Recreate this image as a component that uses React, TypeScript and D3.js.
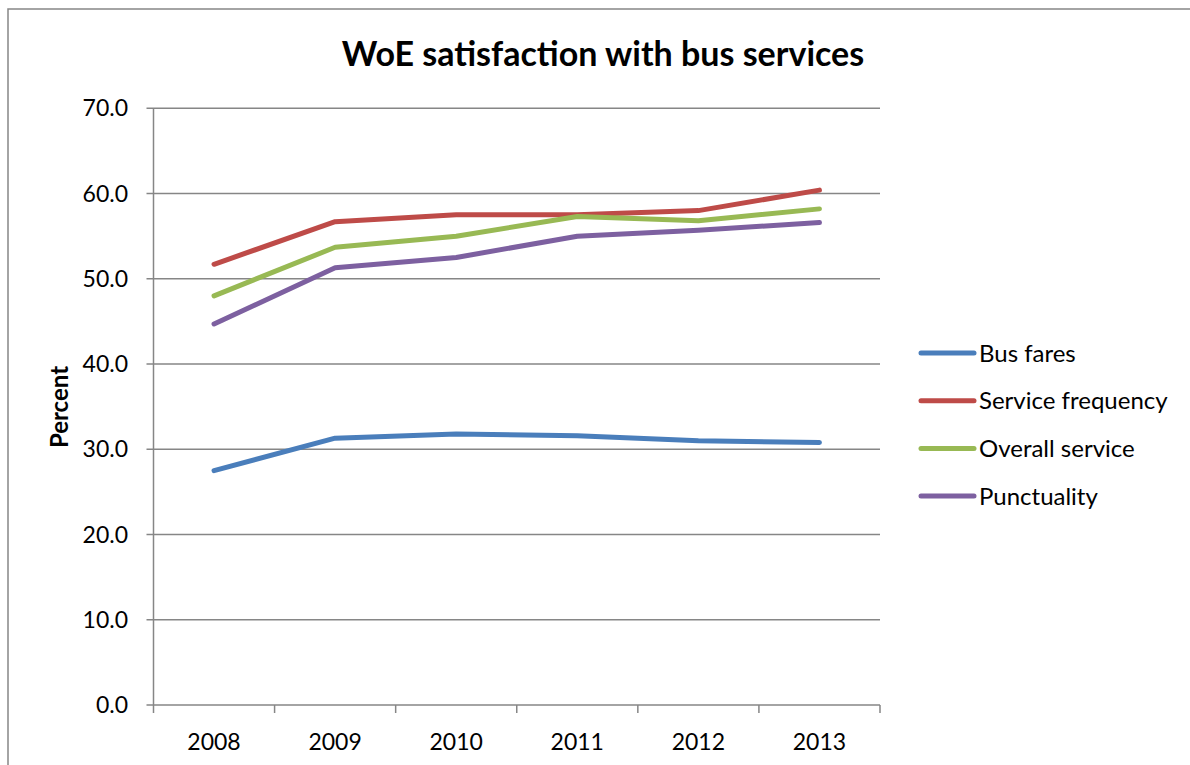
import React from "react";
import * as d3 from "d3";

const years = ["2008", "2009", "2010", "2011", "2012", "2013"];
const busFares = [27.5, 31.3, 31.8, 31.6, 31.0, 30.8];
const serviceFrequency = [51.7, 56.7, 57.5, 57.5, 58.0, 60.4];
const overallService = [48.0, 53.7, 55.0, 57.3, 56.8, 58.2];
const punctuality = [44.7, 51.3, 52.5, 55.0, 55.7, 56.6];
const yTicks = [0, 10, 20, 30, 40, 50, 60, 70];

const seriesNames = ["Bus fares", "Service frequency", "Overall service", "Punctuality"];
const seriesColors = ["#4A7EBB", "#BE4B48", "#98B954", "#7D60A0"];
const seriesValues = [busFares, serviceFrequency, overallService, punctuality];

const FONT = "Lato, 'Open Sans', sans-serif";

export default function App() {
  const W = 1190, H = 765;
  const left = 153.5, right = 880, top = 108.3, bottom = 705;
  const x = d3.scaleBand().domain(years).range([left, right]);
  const y = d3.scaleLinear().domain([0, 70]).range([bottom, top]);
  const line = d3.line<number>()
    .x((_, i) => (x(years[i]) as number) + x.bandwidth() / 2)
    .y((d) => y(d));
  const grid = "#868686";
  const boundaries = years.map((yr) => x(yr) as number).concat([right]);

  return (
    <svg width={W} height={H} style={{ position: "absolute", left: 0, top: 0 }}>
      <rect x={0} y={0} width={W} height={H} fill="#fff" />
      <rect x={8} y={9} width={W + 20} height={H + 20} fill="none" stroke={grid} strokeWidth={1.5} />
      <text x={603} y={66} textAnchor="middle" fontFamily={FONT} fontWeight="bold" fontSize={34} fill="#000">
        WoE satisfaction with bus services
      </text>
      {yTicks.map((t) => (
        <g key={t}>
          <line x1={left - 7} x2={right} y1={y(t)} y2={y(t)} stroke={grid} strokeWidth={1.5} />
          <text x={128} y={y(t) + 8} textAnchor="end" fontFamily={FONT} fontSize={23} fill="#000">
            {t.toFixed(1)}
          </text>
        </g>
      ))}
      <line x1={left} x2={left} y1={top} y2={bottom} stroke={grid} strokeWidth={1.5} />
      {boundaries.map((bx, i) => (
        <line key={i} x1={bx} x2={bx} y1={bottom} y2={bottom + 8} stroke={grid} strokeWidth={1.5} />
      ))}
      {years.map((yr) => (
        <text key={yr} x={(x(yr) as number) + x.bandwidth() / 2} y={750} textAnchor="middle" fontFamily={FONT} fontSize={23} fill="#000">
          {yr}
        </text>
      ))}
      <text transform={`translate(68,407) rotate(-90)`} textAnchor="middle" fontFamily={FONT} fontWeight="bold" fontSize={24} fill="#000">
        Percent
      </text>
      {seriesValues.map((vals, i) => (
        <path key={i} d={line(vals) as string} fill="none" stroke={seriesColors[i]} strokeWidth={5} strokeLinecap="round" strokeLinejoin="round" />
      ))}
      {seriesNames.map((name, i) => {
        const ly = 353 + i * 47.7;
        return (
          <g key={name}>
            <line x1={921} x2={974} y1={ly} y2={ly} stroke={seriesColors[i]} strokeWidth={5} strokeLinecap="round" />
            <text x={979} y={ly + 8.5} fontFamily={FONT} fontSize={24} fill="#000">{name}</text>
          </g>
        );
      })}
    </svg>
  );
}
